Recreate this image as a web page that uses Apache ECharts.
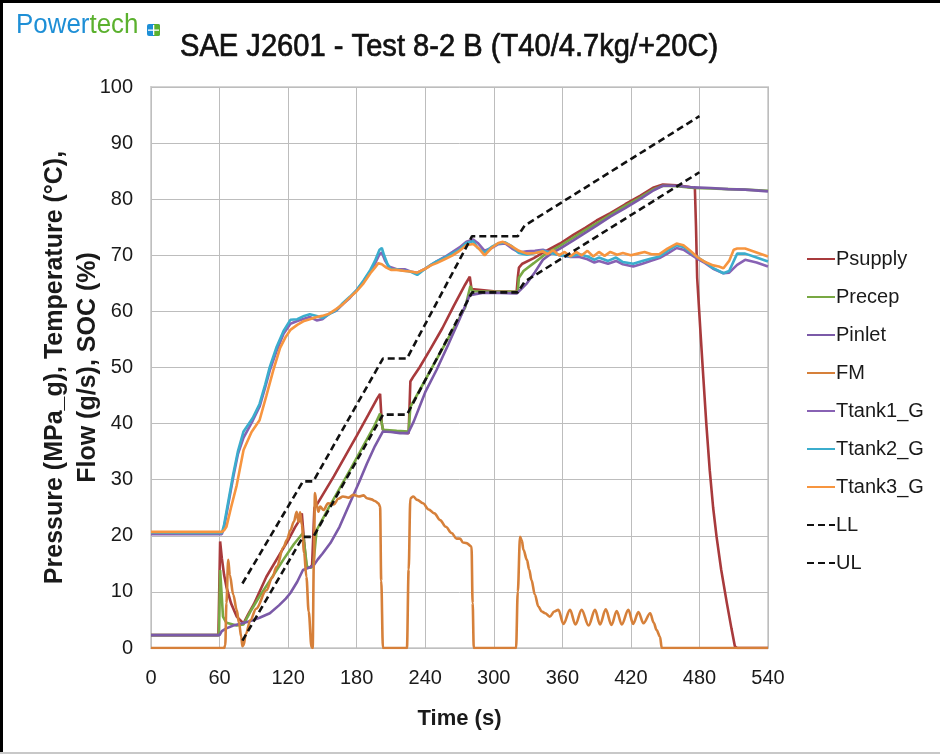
<!DOCTYPE html>
<html>
<head>
<meta charset="utf-8">
<title>SAE J2601 - Test 8-2 B</title>
<script src="https://cdn.jsdelivr.net/npm/echarts@6/dist/echarts.min.js"></script>
<style>
  html, body { margin: 0; padding: 0; background: #fff; }
  #chart { width: 940px; height: 754px; }
</style>
</head>
<body>
<div id="chart"></div>
<script>
// Time axis ticks (s) and value axis ticks
const timeTicks = [0, 60, 120, 180, 240, 300, 360, 420, 480, 540];
const valueTicks = [0, 10, 20, 30, 40, 50, 60, 70, 80, 90, 100];

// [time s, value] samples per channel
const psupply = [[0,2.3],[59,2.3],[60,2.5],[60.5,19],[62,16],[64,13],[66,10.9],[70,8],[75,5.6],[81,4.4],[85,6],[90,7.8],[101,12.7],[110,15.8],[120,19.2],[126,21.5],[130,22.8],[132,24],[134,19],[136,14.5],[139,14.3],[141,14.8],[143,25],[145,25.5],[150,27.2],[160,30.6],[170,34.2],[180,37.8],[190,41.5],[198,44.5],[200.5,45.3],[202,40],[203,38.9],[210,38.6],[218,38.4],[225.5,38.3],[227,47.5],[230,48.5],[235,50],[244,53.1],[255,57],[265,61],[275,64.8],[279,66.2],[280.5,64],[282,63.7],[300,63.6],[320,63.5],[321,66],[322,67.8],[325,68.5],[335,69.5],[345,70.7],[358,72.1],[370,73.7],[380,74.9],[390,76.2],[402,77.5],[415,79.1],[428,80.6],[440,82.1],[448,82.6],[460,82.5],[470,82.2],[476,82],[477,75],[478,66],[481,56],[483,49.5],[486,40],[489,31.7],[492,25],[495,19.8],[499,14],[504,8],[508,3.5],[511,0.3],[513,0],[540,0]];

const precep = [[0,2.3],[59.5,2.3],[60.5,13.9],[62,9],[63,5.6],[66,4.5],[75,4],[81,4.2],[87,6.5],[95,9.2],[105,12.3],[116,15.8],[125,18.5],[133,20.5],[135,17],[136.5,14.5],[140,14.3],[142,14.6],[144,19],[145,21],[155,24.8],[165,28.4],[175,32],[185,35.7],[195,39.4],[200.5,41.8],[203,38.9],[215,38.7],[225.5,38.6],[227,43],[235,45.9],[245,49.6],[255,53.3],[265,57],[275,60.7],[279.5,64.5],[281.5,63.6],[300,63.5],[321,63.5],[322,66],[326,67.2],[335,68.6],[345,70.2],[358,71.7],[370,73.2],[380,74.5],[390,75.7],[402,77.2],[415,78.8],[428,80.3],[440,81.8],[448,82.4],[460,82.3],[475,82],[490,81.9],[505,81.8],[520,81.7],[540,81.5]];

const pinlet = [[0,2.3],[60,2.3],[62,3],[66,3.5],[72,4],[80,4.4],[87,4.8],[95,5.4],[104,6.2],[112,7.6],[118,8.8],[122,9.8],[128,11.8],[133,13.9],[138,14.3],[142,14.6],[146,15.8],[150,16.8],[157,18.7],[165,21.6],[174,25.8],[182,29.5],[189,32.9],[196,36],[203,38.6],[210,38.5],[218,38.3],[225,38.3],[230,40.4],[240,45.6],[250,49.6],[260,54],[270,58.6],[279,62.9],[290,63.3],[305,63.3],[320,63.2],[324,64],[329,65],[336,67],[343,69.2],[350,70.3],[358,71.2],[370,72.7],[380,74],[390,75.3],[402,76.9],[415,78.4],[428,80],[440,81.6],[448,82.4],[460,82.4],[475,82.1],[490,82],[505,81.8],[520,81.7],[540,81.4]];

const fm = [[0,0],[64,0],[65,0.5],[66,8],[67.6,15.7],[69,13],[72,9.5],[75,6.8],[77,4.5],[79,2],[80,0.3],[81,0.5],[83,2.5],[87,5],[92,7],[101,10.3],[106,12.5],[110,14.5],[116,18],[119,19.3],[122,21],[125,22.5],[127.5,24.3],[129,22.5],[130.5,24.2],[132,22],[134,17],[136,12.7],[138,6.5],[140.5,0.2],[141.5,0],[142.5,15],[143.5,27.6],[145,25.5],[146.5,24.3],[148,25.2],[151,24.6],[155,25.8],[160,25.6],[164,26.6],[168,27],[173,26.8],[177,27.3],[182,27],[186,27.2],[189,26.7],[193,26.5],[196,26.2],[199,25.8],[200.5,25.2],[201.5,12],[203,0],[224,0],[225.5,14],[227,26.7],[229.5,27],[233,26.4],[238,25.8],[243,24.7],[248,24],[253,22.8],[258,21.6],[263,20.5],[267.5,19.5],[270.5,19.5],[273,18.8],[276,18.7],[280.5,18.1],[281.5,8],[282.5,0],[319.5,0],[321,10],[323,19.8],[324.5,19.2],[326,17.5],[329,15.7],[331,14],[333,12.1],[336,9.5],[339,7.4],[342,6.5],[345,6.2],[349,5.6],[353,6.5],[356.5,6.8],[361,4.3],[366.7,6.8],[371.5,4.2],[376.9,6.8],[383,4],[388.6,6.8],[393,4.2],[398,6.9],[403,4.1],[407.6,6.6],[412,4.2],[417.8,6.8],[422,4.3],[426.6,6.4],[431,4.4],[436.9,6.2],[440,4.5],[442.5,3.2],[445.5,2],[447,0],[540,0]];

const ttank1 = [[0,20.3],[62,20.3],[64,21.5],[68,26],[72,30.5],[76,34.5],[81,37.5],[89,40.5],[95,43],[100,46.5],[104,49.5],[110,53],[116,56],[122,57.8],[128,58.3],[134,58.7],[139,59],[145,58.4],[150,58.6],[156,59.6],[162,60.1],[168,61.3],[174,62.4],[180,63.8],[186,65.3],[192,67.2],[196,68.5],[200,70.2],[202,70.5],[205,69],[208,68],[215,67.5],[222,67.5],[227,67.1],[233,66.9],[240,67.6],[245,68.3],[250,68.9],[257,69.7],[264,70.6],[270,71.4],[276,72.4],[282,72.8],[286,72.2],[292,70.8],[298,71.3],[304,72],[310,72.1],[316,71.2],[322,70.5],[329,70.7],[336,70.8],[343,71],[350,70.5],[358,70],[367,69.7],[375,69.7],[382,69.3],[388,68.7],[392,69],[400,68.5],[407,69],[413,68.4],[422,68],[430,68.5],[437,69],[445,69.5],[452,70.3],[460,71.3],[466,71],[472,70.2],[478,69.4],[485,68.6],[492,67.6],[501,66.8],[506,66.9],[513,68.3],[520,69.2],[530,68.7],[540,68]];

const ttank2 = [[0,20.6],[30,20.5],[62,20.5],[64,22],[68,26.5],[72,31],[76,35],[81,38.6],[89,41],[95,43.5],[100,47],[104,50.1],[110,53.7],[116,56.5],[122,58.5],[128,58.6],[134,59.2],[139,59.5],[145,59.2],[150,58.8],[156,59.5],[162,60.2],[168,61.5],[174,62.6],[180,63.8],[186,65.5],[192,67.4],[196,69],[200,71],[202,71.3],[204,70],[207,68.4],[210,67.5],[215,67.5],[220,67.3],[227,67.1],[233,66.5],[240,67.6],[245,68.3],[250,68.9],[257,69.6],[264,70.4],[270,71],[276,72.2],[282,72.5],[286,71.3],[292,70.5],[298,71.5],[304,72.1],[310,72.3],[316,71.6],[322,70.4],[329,70.1],[336,70.4],[343,70.8],[350,70.4],[358,70],[367,69.8],[375,70.2],[382,69.8],[388,69.2],[392,69.6],[400,69],[407,69.6],[413,68.8],[422,68.5],[430,69],[437,69.4],[445,69.8],[452,70.8],[460,71.8],[466,71.5],[472,70.6],[478,69.7],[485,68.8],[492,67.7],[501,66.8],[506,67.2],[513,70.3],[520,70.3],[530,69.6],[540,68.9]];

const ttank3 = [[0,20.7],[62,20.7],[64,21],[66,21.6],[70,25],[75,29],[81,35.3],[88,38.5],[95,40.6],[101,45],[107,49.5],[113,53.5],[118,55.5],[122,56.7],[128,57.6],[134,58.3],[139,58.6],[145,59],[150,59.2],[156,59.6],[162,60.4],[168,61.3],[174,62.5],[180,63.6],[186,65],[192,66.8],[196,67.8],[199,68.6],[202,68.4],[206,67.8],[210,67.4],[215,67.4],[222,67.2],[227,67.1],[233,66.9],[240,67.6],[245,68.2],[250,68.6],[257,69.3],[264,70],[270,70.8],[276,71.8],[282,72],[287,71.2],[292,70],[298,71.3],[304,72.2],[308,72.4],[314,71.8],[322,70.8],[329,70.3],[336,70.4],[343,70.7],[347,70.2],[352,70.9],[357,70],[362,70.6],[367,69.8],[372,70.6],[377,70],[382,70.8],[387,69.8],[392,70.6],[397,69.9],[402,70.6],[408,70.1],[413,70.4],[420,70],[426,70.3],[432,70.6],[438,70.2],[445,70.2],[452,71.2],[460,72.1],[466,71.8],[472,70.8],[478,69.7],[485,68.8],[492,68.2],[497,68],[501,67.7],[506,69],[510,71],[513,71.2],[520,71.2],[530,70.5],[540,69.8]];

// Lower / upper pressure limits
const ll = [[80,1.3],[133,19.8],[142,19.8],[203,41.6],[224,41.6],[281,63.4],[321,63.4],[327,65.3],[480,84.8]];
const ul = [[80,11.5],[133,29.7],[142,29.7],[203,51.6],[224,51.6],[281,73.4],[321,73.4],[327,75.3],[480,94.8]];

const FONT = '"Liberation Sans", Arial, sans-serif';
const INK = '#1a1a1a';

function line(name, data, color, opts) {
  opts = opts || {};
  return {
    name: name,
    type: 'line',
    data: data,
    symbol: 'none',
    animation: false,
    smooth: opts.smooth || false,
    smoothMonotone: opts.smooth ? 'x' : undefined,
    lineStyle: { color: color, width: 2.6, type: opts.dashed ? [7, 4] : 'solid' },
    itemStyle: { color: color }
  };
}

const chart = echarts.init(document.getElementById('chart'), null, { renderer: 'canvas' });
chart.setOption({
  backgroundColor: '#ffffff',
  animation: false,
  grid: { left: 151, right: 172, top: 87, bottom: 106, show: true, borderColor: '#d4d4d4', borderWidth: 2 },
  xAxis: {
    type: 'value',
    min: timeTicks[0],
    max: timeTicks[timeTicks.length - 1],
    interval: 60,
    name: 'Time (s)',
    nameLocation: 'middle',
    nameGap: 60,
    nameTextStyle: { fontFamily: FONT, fontSize: 22, fontWeight: 'bold', color: INK },
    axisLine: { lineStyle: { color: '#bfbfbf', width: 1 } },
    axisTick: { show: false },
    axisLabel: { fontFamily: FONT, fontSize: 20, color: INK, margin: 20 },
    splitLine: { show: true, lineStyle: { color: '#bdbdbd', width: 1 } }
  },
  yAxis: {
    type: 'value',
    min: valueTicks[0],
    max: valueTicks[valueTicks.length - 1],
    interval: 10,
    name: 'Pressure (MPa_g), Temperature (°C),\nFlow (g/s), SOC (%)',
    nameLocation: 'middle',
    nameRotate: 90,
    nameGap: 46,
    nameMoveOverlap: false,
    nameTextStyle: { fontFamily: FONT, fontSize: 25, fontWeight: 'bold', color: INK, lineHeight: 33 },
    axisLine: { show: true, lineStyle: { color: '#bfbfbf', width: 1 } },
    axisTick: { show: false },
    axisLabel: { fontFamily: FONT, fontSize: 20, color: INK, margin: 18 },
    splitLine: { show: true, lineStyle: { color: '#bdbdbd', width: 1 } }
  },
  legend: {
    orient: 'vertical',
    left: 801,
    top: 244,
    itemWidth: 28,
    itemHeight: 14,
    itemGap: 18,
    itemStyle: { opacity: 0 },
    textStyle: { fontFamily: FONT, fontSize: 20, color: INK, padding: [0, 0, 0, -4] },
    data: ['Psupply', 'Precep', 'Pinlet', 'FM', 'Ttank1_G', 'Ttank2_G', 'Ttank3_G', 'LL', 'UL']
  },
  graphic: [
    // outer frame
    { type: 'rect', shape: { x: 0, y: 0, width: 940, height: 3 }, style: { fill: '#000' }, silent: true },
    { type: 'rect', shape: { x: 0, y: 0, width: 3, height: 754 }, style: { fill: '#000' }, silent: true },
    { type: 'rect', shape: { x: 0, y: 752, width: 940, height: 2 }, style: { fill: '#c8c8c8' }, silent: true },
    // company mark
    {
      type: 'text', x: 16, y: 12, scaleX: 0.96,
      style: {
        text: '{a|Power}{b|tech}',
        rich: {
          a: { fontFamily: FONT, fontSize: 27, fill: '#1e8fd6' },
          b: { fontFamily: FONT, fontSize: 27, fill: '#5bb12e' }
        }
      }
    },
    { type: 'rect', shape: { x: 147, y: 24, width: 13, height: 12, r: 2 }, style: { fill: '#1e8fd6' } },
    { type: 'rect', shape: { x: 154, y: 24, width: 6, height: 12, r: [0, 2, 2, 0] }, style: { fill: '#5bb12e' } },
    { type: 'rect', shape: { x: 153, y: 25, width: 1.3, height: 10 }, style: { fill: '#fff' } },
    { type: 'rect', shape: { x: 148, y: 29.5, width: 11, height: 1.3 }, style: { fill: '#fff' } },
    // chart title
    {
      type: 'text', x: 180, y: 31, scaleX: 0.91,
      style: {
        text: 'SAE J2601 - Test 8-2 B (T40/4.7kg/+20C)', fontFamily: FONT, fontSize: 32,
        fill: '#111', stroke: '#111', lineWidth: 0.7
      }
    }
  ],
  series: [
    line('Psupply', psupply, '#a83a3c'),
    line('Precep', precep, '#78a843'),
    line('Pinlet', pinlet, '#7b5aa8'),
    line('FM', fm, '#d6803a', { smooth: 0.35 }),
    line('Ttank1_G', ttank1, '#8862b4'),
    line('Ttank2_G', ttank2, '#3badcd'),
    line('Ttank3_G', ttank3, '#f7953f'),
    line('LL', ll, '#111111', { dashed: true }),
    line('UL', ul, '#111111', { dashed: true })
  ]
});
</script>
</body>
</html>
